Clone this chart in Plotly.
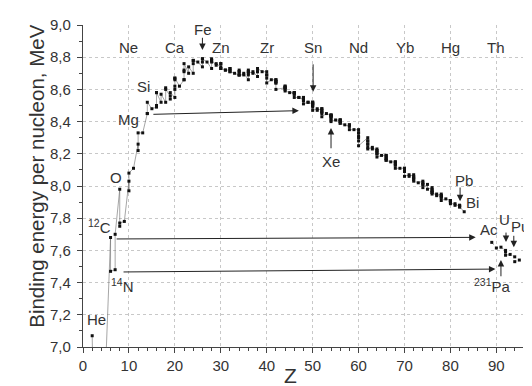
import plotly.graph_objects as go

# ---- data: binding energy per nucleon of (quasi)stable nuclides, ordered by Z then A ----
stable_z = [
    2,
    3, 3,
    4,
    5, 5,
    6, 6,
    7, 7,
    8, 8, 8,
    9,
    10, 10, 10,
    11,
    12, 12, 12,
    13,
    14, 14, 14,
    15,
    16, 16, 16, 16,
    17, 17,
    18, 18, 18,
    19, 19, 19,
    20, 20, 20, 20, 20, 20,
    21,
    22, 22, 22, 22, 22,
    23, 23,
    24, 24, 24, 24,
    25,
    26, 26, 26, 26,
    27,
    28, 28, 28, 28, 28,
    29, 29,
    30, 30, 30, 30, 30,
    31, 31,
    32, 32, 32, 32, 32,
    33,
    34, 34, 34, 34, 34, 34,
    35, 35,
    36, 36, 36, 36, 36, 36,
    37, 37,
    38, 38, 38, 38,
    39,
    40, 40, 40, 40, 40,
    41,
    42, 42, 42, 42, 42, 42, 42,
    44, 44, 44, 44, 44, 44, 44,
    45,
    46, 46, 46, 46, 46, 46,
    47, 47,
    48, 48, 48, 48, 48, 48, 48, 48,
    49, 49,
    50, 50, 50, 50, 50, 50, 50, 50, 50, 50,
    51, 51,
    52, 52, 52, 52, 52, 52, 52,
    53,
    54, 54, 54, 54, 54, 54, 54, 54, 54,
    55,
    56, 56, 56, 56, 56, 56, 56,
    57,
    58, 58, 58, 58,
    59,
    60, 60, 60, 60, 60, 60, 60,
    62, 62, 62, 62, 62, 62, 62,
    63, 63,
    64, 64, 64, 64, 64, 64, 64,
    65,
    66, 66, 66, 66, 66, 66, 66,
    67,
    68, 68, 68, 68, 68, 68,
    69,
    70, 70, 70, 70, 70, 70, 70,
    71, 71,
    72, 72, 72, 72, 72, 72,
    73,
    74, 74, 74, 74, 74,
    75, 75,
    76, 76, 76, 76, 76, 76, 76,
    77, 77,
    78, 78, 78, 78, 78, 78,
    79,
    80, 80, 80, 80, 80, 80, 80,
    81, 81,
    82, 82, 82, 82,
    83,
]
stable_be = [
    7.07,
    5.33, 5.61,
    6.46,
    6.48, 6.93,
    7.68, 7.47,
    7.48, 7.70,
    7.98, 7.75, 7.77,
    7.78,
    8.03, 7.97, 8.08,
    8.11,
    8.26, 8.22, 8.33,
    8.33,
    8.45, 8.45, 8.52,
    8.48,
    8.49, 8.50, 8.58, 8.58,
    8.52, 8.57,
    8.52, 8.61, 8.60,
    8.56, 8.54, 8.58,
    8.55, 8.62, 8.60, 8.66, 8.67, 8.67,
    8.62,
    8.66, 8.66, 8.72, 8.71, 8.76,
    8.70, 8.74,
    8.70, 8.78, 8.76, 8.78,
    8.77,
    8.74, 8.79, 8.77, 8.79,
    8.77,
    8.73, 8.78, 8.77, 8.79, 8.78,
    8.75, 8.76,
    8.74, 8.76, 8.73, 8.76, 8.73,
    8.72, 8.72,
    8.72, 8.73, 8.71, 8.73, 8.71,
    8.70,
    8.69, 8.71, 8.69, 8.72, 8.71, 8.69,
    8.69, 8.70,
    8.66, 8.69, 8.71, 8.70, 8.72, 8.71,
    8.70, 8.71,
    8.68, 8.71, 8.71, 8.73,
    8.71,
    8.71, 8.69, 8.69, 8.67, 8.64,
    8.66,
    8.66, 8.66, 8.65, 8.65, 8.64, 8.64, 8.60,
    8.61, 8.62, 8.61, 8.62, 8.60, 8.61, 8.59,
    8.58,
    8.58, 8.58, 8.57, 8.58, 8.57, 8.55,
    8.55, 8.55,
    8.54, 8.55, 8.55, 8.54, 8.54, 8.53, 8.53, 8.51,
    8.52, 8.52,
    8.51, 8.52, 8.51, 8.52, 8.51, 8.52, 8.50, 8.50, 8.49, 8.47,
    8.48, 8.47,
    8.48, 8.48, 8.47, 8.46, 8.46, 8.45, 8.43,
    8.45,
    8.44, 8.44, 8.44, 8.43, 8.44, 8.42, 8.43, 8.41, 8.40,
    8.41,
    8.41, 8.41, 8.41, 8.40, 8.40, 8.39, 8.39,
    8.38,
    8.37, 8.38, 8.38, 8.35,
    8.35,
    8.35, 8.33, 8.33, 8.31, 8.30, 8.28, 8.25,
    8.30, 8.28, 8.28, 8.26, 8.26, 8.24, 8.23,
    8.24, 8.23,
    8.23, 8.22, 8.21, 8.22, 8.20, 8.20, 8.18,
    8.19,
    8.19, 8.19, 8.18, 8.17, 8.17, 8.16, 8.16,
    8.15,
    8.15, 8.15, 8.14, 8.13, 8.13, 8.11,
    8.11,
    8.11, 8.11, 8.10, 8.10, 8.09, 8.09, 8.06,
    8.07, 8.06,
    8.07, 8.06, 8.05, 8.05, 8.04, 8.03,
    8.02,
    8.03, 8.02, 8.01, 8.01, 7.99,
    8.01, 7.98,
    7.99, 7.98, 7.97, 7.97, 7.96, 7.96, 7.95,
    7.95, 7.94,
    7.95, 7.94, 7.94, 7.93, 7.93, 7.91,
    7.92,
    7.91, 7.91, 7.91, 7.91, 7.90, 7.90, 7.89,
    7.89, 7.88,
    7.88, 7.88, 7.87, 7.87,
    7.84,
]
actinide_z = [89, 90, 91, 92, 92, 92, 93, 94, 94, 95]
actinide_be = [7.65, 7.615, 7.62, 7.60, 7.59, 7.57, 7.575, 7.56, 7.53, 7.54]

# element names along the top (on grid lines)
top_names = ["Ne", "Ca", "Zn", "Zr", "Sn", "Nd", "Yb", "Hg", "Th"]
top_z = [10, 20, 30, 40, 50, 60, 70, 80, 90]
top_be = 8.86

# element labels near the curve
lbl_text = ["He", "<sup>12</sup>C", "<sup>14</sup>N", "O", "Mg", "Si", "Fe", "Xe",
            "Pb", "Bi", "Ac", "U", "Pu", "<sup>231</sup>Pa"]
lbl_z = [2.9, 3.5, 8.6, 7.25, 9.9, 13.2, 26.1, 53.9, 82.9, 84.8, 88.4, 91.8, 95.2, 89.2]
lbl_be = [7.17, 7.75, 7.38, 8.05, 8.415, 8.615, 8.97, 8.155, 8.035, 7.90, 7.73, 7.79, 7.75, 7.385]

# arrows: tail (z, be) -> head (z, be)
arr_tail_z = [15.0, 7.0, 8.5, 26.0, 50.1, 54.0, 82.1, 92.1, 93.8, 91.0]
arr_tail_be = [8.445, 7.671, 7.466, 8.93, 8.765, 8.225, 8.0, 7.72, 7.70, 7.43]
arr_head_z = [47.0, 85.5, 89.8, 26.0, 50.1, 54.0, 82.1, 92.1, 93.8, 91.0]
arr_head_be = [8.468, 7.681, 7.484, 8.845, 8.585, 8.36, 7.905, 7.652, 7.62, 7.54]

FONT = "Liberation Sans, Arial, sans-serif"
TXT = "#333333"
AX = "#444444"

fig = go.Figure()
marker_style = dict(symbol="square", size=3, color="#111111")
fig.add_trace(go.Scatter(x=stable_z, y=stable_be, mode="lines+markers",
                         line=dict(color="#6a6a6a", width=0.6),
                         marker=marker_style, showlegend=False))
fig.add_trace(go.Scatter(x=actinide_z, y=actinide_be, mode="lines+markers",
                         line=dict(color="#666666", width=0.7, dash="dot"),
                         marker=marker_style, showlegend=False))

ann = []
for name, z in zip(top_names, top_z):
    ann.append(dict(x=z, y=top_be, xref="x", yref="y", text=name, showarrow=False,
                    font=dict(size=15, color=TXT, family=FONT)))
for t, z, e in zip(lbl_text, lbl_z, lbl_be):
    ann.append(dict(x=z, y=e, xref="x", yref="y", text=t, showarrow=False,
                    font=dict(size=15, color=TXT, family=FONT)))
for tz, te, hz, he in zip(arr_tail_z, arr_tail_be, arr_head_z, arr_head_be):
    ann.append(dict(x=hz, y=he, ax=tz, ay=te, xref="x", yref="y", axref="x", ayref="y",
                    text="", showarrow=True, arrowhead=2, arrowsize=1.3, arrowwidth=1,
                    arrowcolor="#222222"))
# axis titles
ann.append(dict(x=0.471, y=-0.088, xref="paper", yref="paper", text="Z", showarrow=False,
                font=dict(size=21, color=TXT, family=FONT), yanchor="middle"))
ann.append(dict(x=-0.138, y=0.531, xref="paper", yref="paper",
                text="Binding energy per nucleon, MeV", textangle=-90, showarrow=False,
                font=dict(size=20.5, color=TXT, family=FONT)))

axis_common = dict(
    showline=True, linecolor=AX, linewidth=1.2, mirror=False,
    ticks="outside", ticklen=5, tickwidth=1, tickcolor=AX,
    showgrid=True, gridcolor="#c8c8c8", griddash="dot", gridwidth=1,
    zeroline=False, tickfont=dict(size=15, color=TXT, family=FONT),
)

# page body has an 8px margin, so the figure is 8px smaller and offset accordingly
fig.update_layout(
    width=524, height=378, autosize=False,
    margin=dict(l=75, r=9, t=17, b=39),
    paper_bgcolor="white", plot_bgcolor="white",
    separators=",.",
    font=dict(family=FONT, color=TXT),
    xaxis=dict(range=[0, 95.8], tick0=0, dtick=10,
               minor=dict(dtick=2, ticks="outside", ticklen=3, tickcolor=AX, showgrid=False),
               **axis_common),
    yaxis=dict(range=[7.0, 9.0], tick0=7.0, dtick=0.2, tickformat=".1f",
               minor=dict(dtick=0.1, ticks="outside", ticklen=3, tickcolor=AX, showgrid=False),
               ticklabelstandoff=3,
               **axis_common),
    annotations=ann,
)

fig.write_html("out.html")
